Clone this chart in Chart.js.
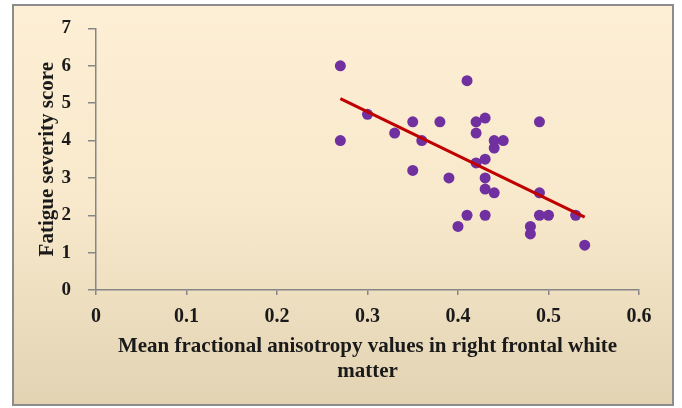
<!DOCTYPE html>
<html lang="en">
<head>
    <meta charset="UTF-8">
    <title>Fatigue vs FA</title>
    <script src="https://cdn.jsdelivr.net/npm/chart.js@4.4.1/dist/chart.umd.min.js"></script>
    <style>
        * { margin: 0; padding: 0; box-sizing: border-box; }
        body { width: 682px; height: 408px; background: #ffffff; position: relative; overflow: hidden; }
        .frame {
            position: absolute;
            left: 12px; top: 4px;
            width: 662px; height: 402px;
            border: 2px solid #8c8c8c;
            background: linear-gradient(to bottom, #fdefd5 0%, #f8e9cc 50%, #e2d3b3 100%);
        }
        #chart { position: absolute; left: 0; top: 0; }
    </style>
</head>
<body>
    <div class="frame"></div>
    <canvas id="chart" width="682" height="408"></canvas>

    <script>
        // Mean FA in right frontal white matter vs fatigue score
        const faValues = [0.27, 0.27, 0.30, 0.33, 0.35, 0.35, 0.36, 0.38, 0.39, 0.40, 0.41, 0.41,
                          0.42, 0.42, 0.43, 0.42, 0.43, 0.43, 0.43, 0.43, 0.44, 0.44, 0.44, 0.45,
                          0.49, 0.49, 0.49, 0.50, 0.48, 0.48, 0.53, 0.54];
        const fatigueScores = [6.0, 4.0, 4.7, 4.2, 4.5, 3.2, 4.0, 4.5, 3.0, 1.7, 5.6, 2.0,
                               4.5, 4.2, 4.6, 3.4, 3.5, 3.0, 2.7, 2.0, 2.6, 4.0, 3.8, 4.0,
                               4.5, 2.6, 2.0, 2.0, 1.7, 1.5, 2.0, 1.2];
        const trendX = [0.27, 0.54];
        const trendY = [5.12, 1.95];

        const points = faValues.map((x, i) => ({ x: x, y: fatigueScores[i] }));
        const trend = trendX.map((x, i) => ({ x: x, y: trendY[i] }));

        const serif = "'Liberation Serif', 'Times New Roman', serif";
        const axisGray = '#868686';

        new Chart(document.getElementById('chart'), {
            type: 'scatter',
            data: {
                datasets: [{
                    type: 'line',
                    data: trend,
                    borderColor: '#c00000',
                    borderWidth: 3,
                    pointRadius: 0,
                    fill: false,
                    order: 0
                }, {
                    data: points,
                    backgroundColor: '#7030a0',
                    borderColor: '#7030a0',
                    pointRadius: 5.5,
                    borderWidth: 0,
                    order: 1
                }]
            },
            options: {
                responsive: false,
                animation: false,
                layout: { padding: { top: 26, right: 43, left: 0, bottom: 0 } },
                plugins: { legend: { display: false }, tooltip: { enabled: false } },
                scales: {
                    x: {
                        type: 'linear',
                        min: 0, max: 0.6,
                        afterFit: s => { s.height = 118; },
                        border: { color: axisGray, width: 1.5 },
                        grid: { drawOnChartArea: false, drawTicks: true, tickLength: 5, color: axisGray, lineWidth: 1.5 },
                        ticks: {
                            stepSize: 0.1,
                            padding: 10,
                            color: '#1a1a1a',
                            maxRotation: 0,
                            font: { family: serif, size: 20, weight: 'bold' },
                            callback: v => Math.round(v * 10) / 10
                        },
                        title: {
                            display: true,
                            text: ['Mean fractional anisotropy values in right frontal white', 'matter'],
                            color: '#1a1a1a',
                            font: { family: serif, size: 21, weight: 'bold', lineHeight: 1.19 },
                            padding: { top: 0, bottom: 24 }
                        }
                    },
                    y: {
                        min: 0, max: 7,
                        afterFit: s => { s.width = 96; },
                        border: { color: axisGray, width: 1.5 },
                        grid: { drawOnChartArea: false, drawTicks: true, tickLength: 8, color: axisGray, lineWidth: 1.5 },
                        ticks: {
                            stepSize: 1,
                            padding: 17,
                            color: '#1a1a1a',
                            font: { family: serif, size: 19, weight: 'bold' }
                        },
                        title: {
                            display: true,
                            text: 'Fatigue severity score',
                            color: '#1a1a1a',
                            font: { family: serif, size: 21, weight: 'bold', lineHeight: 1.2 },
                            padding: { top: 35, bottom: 0 }
                        }
                    }
                }
            }
        });
    </script>
</body>
</html>
